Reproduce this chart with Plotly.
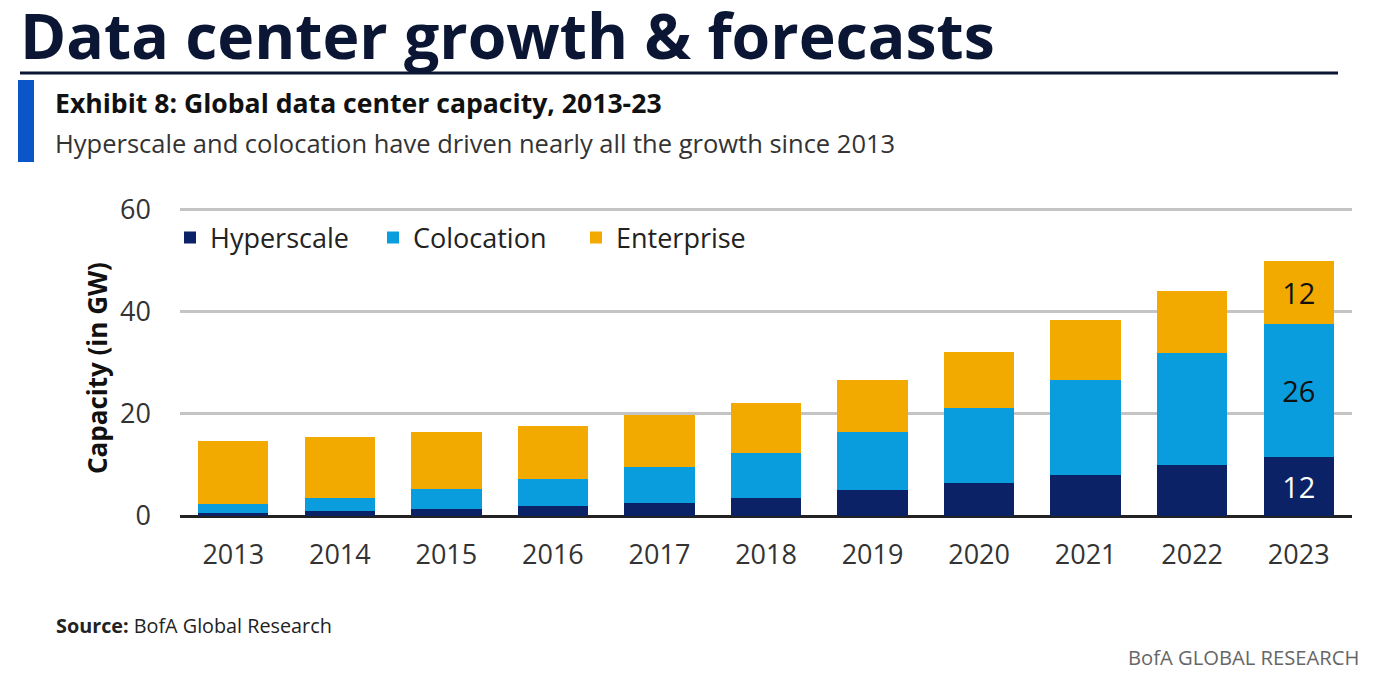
import plotly.graph_objects as go

years = ["2013", "2014", "2015", "2016", "2017", "2018", "2019", "2020", "2021", "2022", "2023"]
hyperscale = [0.6, 0.9, 1.4, 1.9, 2.5, 3.6, 5.0, 6.5, 8.1, 9.9, 11.6]
colocation = [1.7, 2.7, 3.8, 5.3, 7.0, 8.7, 11.5, 14.7, 18.5, 22.1, 26.0]
enterprise = [12.4, 11.9, 11.3, 10.4, 10.2, 9.9, 10.2, 10.9, 11.8, 12.1, 12.4]
y_ticks = [0, 20, 40, 60]

W, H = 1382, 678
L, R, T, B = 180, 30, 208, 162
PW, PH = W - L - R, H - T - B


def px(x):
    return (x - L) / PW


def py(y):
    return (H - B - y) / PH


def last_label(vals):
    return [""] * (len(vals) - 1) + [f"{round(vals[-1])}"]


FONT = "Open Sans"
series = [
    ("Hyperscale", hyperscale, "#0b2266", "white"),
    ("Colocation", colocation, "#0a9ddd", "#111111"),
    ("Enterprise", enterprise, "#f2a900", "#111111"),
]

fig = go.Figure()
for name, vals, color, tcolor in series:
    fig.add_trace(go.Bar(
        x=years, y=vals, name=name, marker=dict(color=color, line=dict(width=0)),
        text=last_label(vals), textposition="inside", insidetextanchor="middle",
        textangle=0, textfont=dict(size=29, color=tcolor, family=FONT),
        hoverinfo="x+y+name",
    ))

fig.update_layout(
    barmode="stack", bargap=0.34,
    width=W, height=H,
    margin=dict(l=L, r=R, t=T, b=B, pad=0),
    paper_bgcolor="white", plot_bgcolor="white",
    font=dict(family=FONT, color="#333333"),
    uniformtext=dict(minsize=20, mode="show"),
    legend=dict(orientation="h", x=px(170), xanchor="left", y=py(238), yanchor="middle",
                font=dict(size=27, color="#222222", family=FONT),
                itemsizing="constant", traceorder="normal", entrywidth=158,
                bgcolor="rgba(0,0,0,0)"),
    xaxis=dict(showgrid=False, showline=False, ticks="", tickfont=dict(size=27, color="#333333"),
               ticklabelstandoff=20, range=[-0.5, 10.5]),
    yaxis=dict(range=[0, 60.3], tickvals=y_ticks, showgrid=True, gridcolor="#c4c4c4", gridwidth=2.5,
               zeroline=True, zerolinecolor="#222222", zerolinewidth=2.5, showline=False,
               tickfont=dict(size=27, color="#333333"), ticks="", ticklabelstandoff=28),
    showlegend=True,
)

annotations = [
    dict(text="<b>Data center growth &amp; forecasts</b>", x=px(18), y=py(34), xanchor="left", yanchor="middle",
         font=dict(size=62.5, color="#0a1633", family=FONT)),
    dict(text="<b>Exhibit 8: Global data center capacity, 2013-23</b>", x=px(53), y=py(103), xanchor="left",
         yanchor="middle", font=dict(size=26.6, color="#111111", family=FONT)),
    dict(text="Hyperscale and colocation have driven nearly all the growth since 2013", x=px(53), y=py(143),
         xanchor="left", yanchor="middle", font=dict(size=25.5, color="#333333", family=FONT)),
    dict(text="<b>Capacity (in GW)</b>", x=px(97), y=py(368), xanchor="center", yanchor="middle", textangle=-90,
         font=dict(size=26, color="#111111", family=FONT)),
    dict(text="<b>Source:</b> BofA Global Research", x=px(54), y=py(625), xanchor="left", yanchor="middle",
         font=dict(size=19.8, color="#222222", family=FONT)),
    dict(text="BofA GLOBAL RESEARCH", x=px(1361), y=py(657), xanchor="right", yanchor="middle",
         font=dict(size=20.2, color="#666666", family=FONT)),
]
for a in annotations:
    a.update(xref="paper", yref="paper", showarrow=False)
fig.update_layout(annotations=annotations)

fig.add_shape(type="line", xref="paper", yref="paper", x0=px(20), x1=px(1338), y0=py(73), y1=py(73),
              line=dict(color="#0a1633", width=3))
fig.add_shape(type="rect", xref="paper", yref="paper", x0=px(18), x1=px(34), y0=py(80), y1=py(162),
              fillcolor="#0a55c8", line=dict(width=0))

fig.write_html("out.html")
